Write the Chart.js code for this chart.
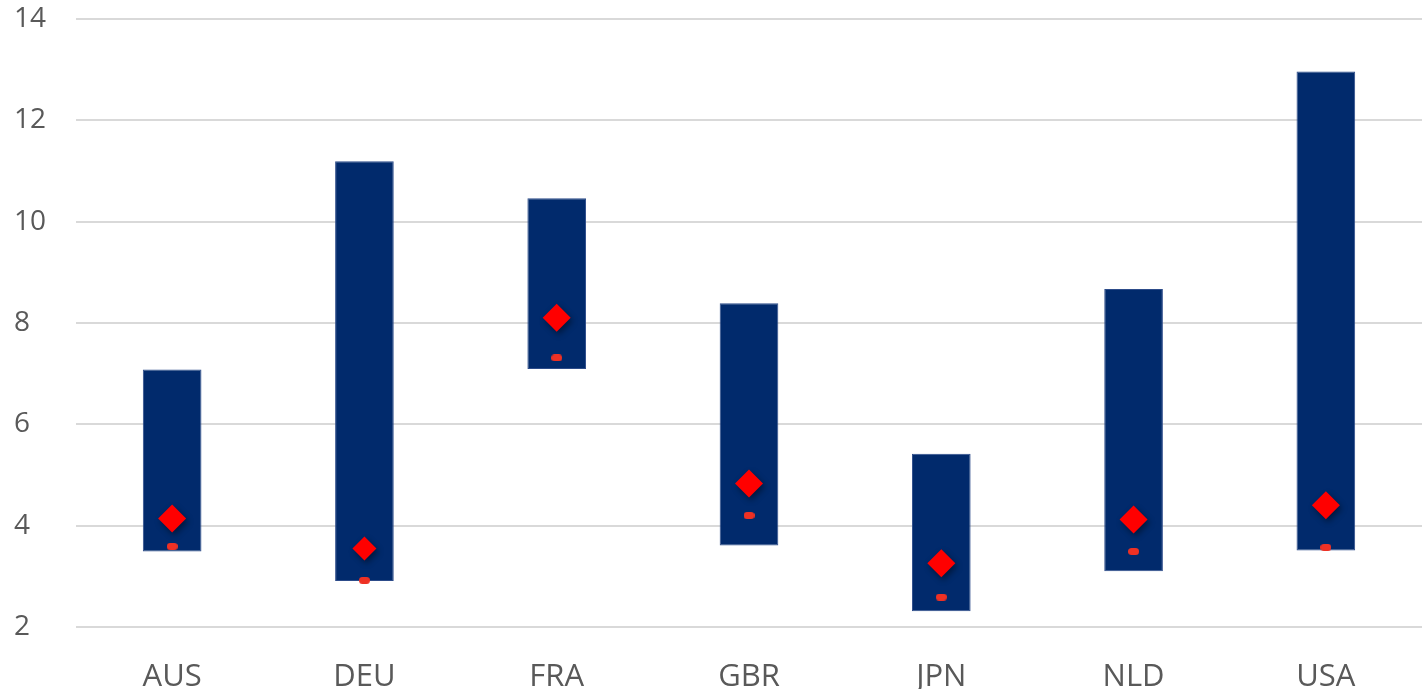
<!DOCTYPE html>
<html>
<head>
<meta charset="utf-8">
<script src="https://cdn.jsdelivr.net/npm/chart.js@4/dist/chart.umd.min.js"></script>
<style>
  html, body { margin: 0; padding: 0; background: #fff; overflow: hidden; }
  canvas { display: block; }
</style>
</head>
<body>
<canvas id="graph" width="1428" height="691" style="width:1428px;height:691px"></canvas>
<script>
const countries = ["AUS", "DEU", "FRA", "GBR", "JPN", "NLD", "USA"];
const rangeLow = [3.49, 2.91, 7.09, 3.61, 2.31, 3.10, 3.51];
const rangeHigh = [7.08, 11.19, 10.46, 8.39, 5.42, 8.67, 12.96];
const diamondValues = [4.14, 3.55, 8.10, 4.83, 3.26, 4.12, 4.40];
const dashValues = [3.59, 2.92, 7.31, 4.20, 2.59, 3.49, 3.57];
const yTicks = [2, 4, 6, 8, 10, 12, 14];

// small rounded dash used as point marker
const dash = document.createElement('canvas');
dash.width = 11;
dash.height = 7;
const dctx = dash.getContext('2d');
dctx.fillStyle = '#ee3124';
dctx.beginPath();
dctx.roundRect(0, 0, 11, 7, 3.5);
dctx.fill();

// soft shadow under the diamonds
const shadowPlugin = {
  id: 'diamondShadow',
  beforeDatasetDraw(chart, args) {
    if (args.index !== 1) return;
    const c = chart.ctx;
    c.save();
    c.shadowColor = 'rgba(0,0,0,0.45)';
    c.shadowBlur = 6;
    c.shadowOffsetX = 2;
    c.shadowOffsetY = 3;
  },
  afterDatasetDraw(chart, args) {
    if (args.index !== 1) return;
    chart.ctx.restore();
  }
};

const graph = document.getElementById("graph").getContext('2d');

let myChart = new Chart(graph, {
  type: "bar",
  data: {
    labels: countries,
    datasets: [
      {
        label: "Range",
        data: countries.map((c, i) => [rangeLow[i], rangeHigh[i]]),
        backgroundColor: '#012a6c',
        borderColor: '#2d4c8a',
        borderWidth: 1,
        borderSkipped: false,
        categoryPercentage: 1,
        barPercentage: 0.305,
        order: 3,
      },
      {
        type: "line",
        label: "Diamond",
        data: diamondValues,
        showLine: false,
        pointStyle: 'rectRot',
        pointRadius: [14, 12, 14, 14, 14, 14, 14],
        pointBackgroundColor: '#ff0000',
        pointBorderWidth: 0,
        order: 1,
      },
      {
        type: "line",
        label: "Dash",
        data: dashValues,
        showLine: false,
        pointStyle: dash,
        order: 2,
      },
    ],
  },
  options: {
    responsive: false,
    animation: false,
    events: [],
    layout: {
      autoPadding: false,
      padding: { top: 0, right: 6, left: 14, bottom: 2 },
    },
    plugins: {
      legend: { display: false },
      tooltip: { enabled: false },
    },
    scales: {
      x: {
        grid: { display: false },
        border: { display: false },
        afterFit(axis) {
          axis.height = 62;
          axis.paddingLeft = 0;
          axis.paddingRight = 0;
        },
        ticks: {
          color: '#595959',
          font: { family: "Open Sans", size: 31 },
          padding: 24,
        },
      },
      y: {
        min: 2,
        max: 14,
        afterBuildTicks(axis) {
          axis.ticks = yTicks.map(v => ({ value: v }));
        },
        afterFit(axis) {
          axis.width = 62;
        },
        grid: { color: '#d9d9d9', lineWidth: 2, drawTicks: false },
        border: { display: false },
        ticks: {
          color: '#595959',
          font: { family: "Open Sans", size: 28 },
          crossAlign: 'far',
          padding: 2,
        },
      },
    },
  },
  plugins: [shadowPlugin],
});
</script>
</body>
</html>
